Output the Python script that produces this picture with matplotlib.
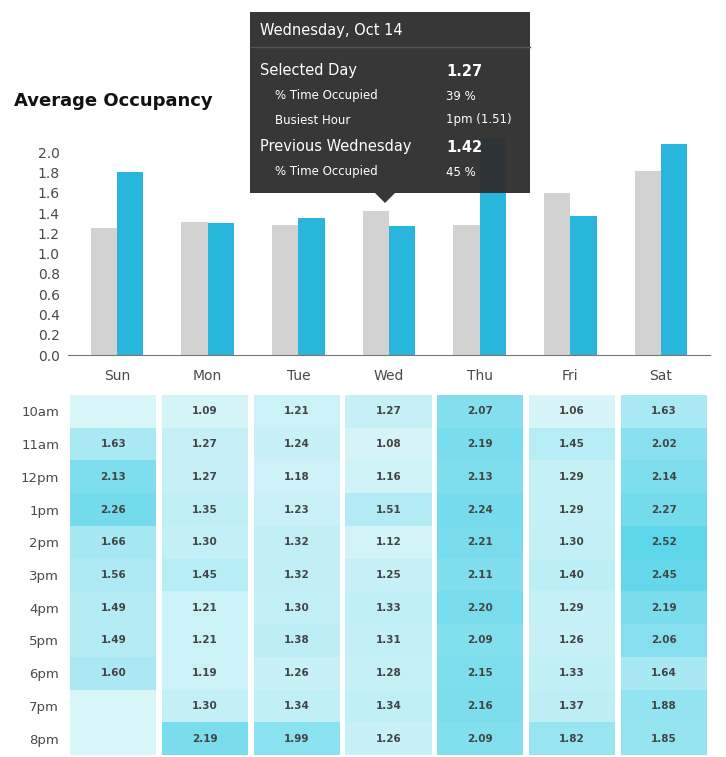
import numpy as np
import matplotlib
matplotlib.use("Agg")
import matplotlib.pyplot as plt
from matplotlib.colors import LinearSegmentedColormap
from matplotlib.patches import Rectangle, Polygon

days = ["Sun", "Mon", "Tue", "Wed", "Thu", "Fri", "Sat"]
previous_week = [1.25, 1.31, 1.28, 1.42, 1.28, 1.60, 1.82]
selected_week = [1.81, 1.30, 1.35, 1.27, 2.14, 1.37, 2.08]
y_ticks = [0.0, 0.2, 0.4, 0.6, 0.8, 1.0, 1.2, 1.4, 1.6, 1.8, 2.0]

hours = ["10am", "11am", "12pm", "1pm", "2pm", "3pm", "4pm", "5pm", "6pm", "7pm", "8pm"]
# rows = hours, columns = days; nan = no data
hourly = [
    [np.nan, 1.09, 1.21, 1.27, 2.07, 1.06, 1.63],
    [1.63, 1.27, 1.24, 1.08, 2.19, 1.45, 2.02],
    [2.13, 1.27, 1.18, 1.16, 2.13, 1.29, 2.14],
    [2.26, 1.35, 1.23, 1.51, 2.24, 1.29, 2.27],
    [1.66, 1.30, 1.32, 1.12, 2.21, 1.30, 2.52],
    [1.56, 1.45, 1.32, 1.25, 2.11, 1.40, 2.45],
    [1.49, 1.21, 1.30, 1.33, 2.20, 1.29, 2.19],
    [1.49, 1.21, 1.38, 1.31, 2.09, 1.26, 2.06],
    [1.60, 1.19, 1.26, 1.28, 2.15, 1.33, 1.64],
    [np.nan, 1.30, 1.34, 1.34, 2.16, 1.37, 1.88],
    [np.nan, 2.19, 1.99, 1.26, 2.09, 1.82, 1.85],
]

tip_rows = [
    ("Selected Day", "1.27", True),
    ("% Time Occupied", "39 %", False),
    ("Busiest Hour", "1pm (1.51)", False),
    ("Previous Wednesday", "1.42", True),
    ("% Time Occupied", "45 %", False),
]

W, H = 726, 757
fig = plt.figure(figsize=(W / 100, H / 100), dpi=100)
fig.patch.set_facecolor("white")


def fx(px):
    return px / W


def fy(py):
    return 1 - py / H


# ---- bar chart ----
ax = fig.add_axes([fx(68), fy(355), fx(642), 223 / H])
x = np.arange(len(days))
w = 0.29
ax.bar(x - w / 2, previous_week, w, color="#d2d2d2")
ax.bar(x + w / 2, selected_week, w, color="#29b6dc")
ax.set_xlim(-0.54, 6.54)
ax.set_ylim(0, 2.2)
ax.set_yticks(y_ticks)
ax.set_yticklabels([f"{v:.1f}" for v in y_ticks])
ax.set_xticks(x)
ax.set_xticklabels(days)
for s in ["top", "right", "left"]:
    ax.spines[s].set_visible(False)
ax.spines["bottom"].set_color("#777777")
ax.tick_params(axis="both", length=0, labelsize=10, colors="#4a4a4a")
ax.tick_params(axis="y", pad=6)
ax.tick_params(axis="x", pad=10)

fig.text(fx(14), fy(101), "Average Occupancy", fontsize=13, fontweight="bold",
         color="#111111", va="center", ha="left")

# ---- heatmap ----
hx = fig.add_axes([fx(67.5), fy(755), fx(642), 360 / H])
cmap = LinearSegmentedColormap.from_list("occ", ["#dcf6f9", "#58d4e9"])
vmin, vmax = 1.0, 2.6
data = np.array(hourly)
cw = 0.94
for r in range(len(hours)):
    for c in range(len(days)):
        v = data[r, c]
        col = "#d8f5f8" if np.isnan(v) else cmap((v - vmin) / (vmax - vmin))
        hx.add_patch(Rectangle((c - cw / 2, r - 0.5), cw, 1, facecolor=col,
                               edgecolor="none"))
        if not np.isnan(v):
            hx.text(c, r, f"{v:.2f}", ha="center", va="center", fontsize=7.5,
                    fontweight="bold", color="#444444")
hx.set_xlim(-0.5, 6.5)
hx.set_ylim(len(hours) - 0.5, -0.5)
hx.set_xticks([])
hx.set_yticks(range(len(hours)))
hx.set_yticklabels(hours)
hx.tick_params(axis="y", length=0, labelsize=9.5, colors="#4a4a4a", pad=6)
for s in hx.spines.values():
    s.set_visible(False)

# ---- tooltip ----
tip_col = "#2f2f2f"
fig.add_artist(Rectangle((fx(250), fy(193)), fx(280), 181 / H,
                         transform=fig.transFigure, facecolor=tip_col,
                         alpha=0.96, edgecolor="none", zorder=10))
fig.add_artist(Polygon([(fx(375), fy(193)), (fx(395), fy(193)), (fx(385), fy(203))],
                       closed=True, transform=fig.transFigure,
                       facecolor=tip_col, alpha=0.96, edgecolor="none", zorder=10))
fig.add_artist(plt.Line2D([fx(250), fx(530)], [fy(47), fy(47)],
                          transform=fig.transFigure, color="#555555", lw=1, zorder=11))
fig.text(fx(260), fy(31), "Wednesday, Oct 14", fontsize=10.5, color="white",
         va="center", zorder=12)
row_y = [71, 96, 120, 147, 172]
for (label, val, main), py in zip(tip_rows, row_y):
    if main:
        fig.text(fx(260), fy(py), label, fontsize=10.5, color="white", va="center", zorder=12)
        fig.text(fx(446), fy(py), val, fontsize=10.5, color="white", fontweight="bold",
                 va="center", zorder=12)
    else:
        fig.text(fx(275), fy(py), label, fontsize=8.5, color="white", va="center", zorder=12)
        fig.text(fx(446), fy(py), val, fontsize=8.5, color="white", va="center", zorder=12)

fig.savefig("out.png", dpi=100)
